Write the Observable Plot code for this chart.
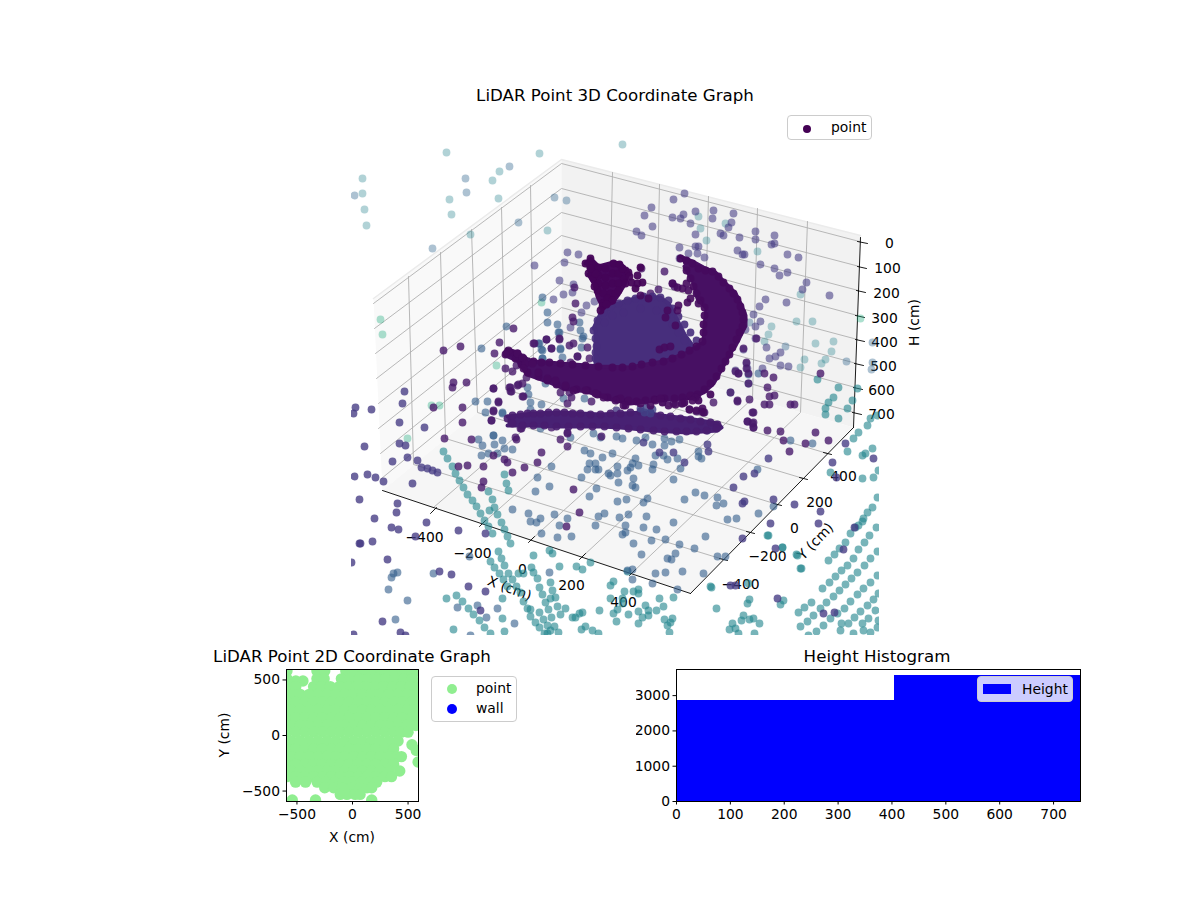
<!DOCTYPE html>
<html><head><meta charset="utf-8">
<script src="https://cdn.jsdelivr.net/npm/d3@7"></script>
<script src="https://cdn.jsdelivr.net/npm/@observablehq/plot@0.6"></script>
<style>
html,body{margin:0;padding:0;background:#fff;overflow:hidden}
#page{position:relative;width:1200px;height:900px;font-family:"DejaVu Sans",sans-serif;color:#000;overflow:hidden}
#page>svg,#page>div{position:absolute}
.t{position:absolute;white-space:nowrap;transform:translate(-50%,-50%);line-height:1}
.title{font-size:16.67px}.lab{font-size:13.89px}
.legend{border:1px solid #ccc;border-radius:4px;box-sizing:border-box;background:rgba(255,255,255,.8);font-size:13.89px}
.legend i{position:absolute;display:block}
.legend span{position:absolute;line-height:1}
</style></head><body><div id="page"></div>
<script>
// ---------- 3D view: values, as projected (screen) coordinates ----------
const paneLeft=[373,298,561,159,561,343,382,490];
const paneBack=[561,159,860,235,853,427,561,343];
const paneFloor=[382,490,561,343,853,427,690,593];
const heightGrid=[[373,303,561,163,859,241],[374,328,561,188,859,266],[375,353,561,212,858,290],[376,378,561,235,857,315],[378,403,561,260,857,339],[378,428,561,283,856,363],[380,453,561,307,855,387],[381,478,561,331,854,412]];
const yGrid=[[408,276,413,464,723,559],[440,252,445,438,750,532],[471,229,477,412,777,504],[501,207,505,389,803,478],[530,185,533,366,827,453]];
const xGrid=[[612,172,608,356,433,507],[659,184,655,370,482,523],[708,196,703,384,531,539],[757,208,752,398,582,556],[807,221,800,412,632,572]];
const axisLines=[[382,490,690,593],[690,593,853,427],[860,237,853,427]];
const tickMarks=[[430,513,436,507],[479,526,485,520],[528,542,534,536],[579,559,585,553],[629,575,635,569],[719,558,727,560],[746,531,754,533],[773,503,781,505],[799,477,807,479],[823,452,831,454],
[857,241,867,243],[857,266,866,268],[856,290,865,292],[855,315,864,317],[855,339,864,341],[854,363,863,365],[853,387,862,389],[852,412,861,414]];
const xTickLabels=[["−400",424,537],["−200",472,553],["0",522,569],["200",571,585],["400",623,602]];
const yTickLabels=[["−400",740,584],["−200",767,556],["0",794,528],["200",819,502],["400",843,476]];
const hTickLabels=[["0",889,243],["100",887,268],["200",886,293],["300",884,318],["400",884,342],["500",883,366],["600",881,390],["700",881,414]];

const paleTeal=[362,178,362,193,364,209,366,225,446,152,449,199,451,214,492,180,499,171,498,198,539,153,622,144,470,234,547,230,700,228,706,240,698,216,725,223,757,251,800,294,796,321,812,321,771,326,768,334,764,341,815,343,833,341,831,351,825,359,821,363,804,359,800,367];
const paleBlue=[354,195,465,178,466,192,509,166,554,197,518,222,432,248,566,200,872,342,872,362,871,369,846,361,749,322,785,346];
const paleGreen=[380,319,382,334,541,302,496,365,860,318,439,405,431,405,407,438];
const violetHigh=[684,193,673,199,651,207,644,215,672,217,680,218,683,214,695,211,713,210,733,213,712,218,690,223,731,222,728,227,652,226,636,231,641,235,695,234,720,233,723,235,739,237,755,231,755,239,774,235,771,244,774,243,679,247,695,246,698,246,737,250,742,254,744,254,787,254,798,257,688,253,697,253,704,257,679,258,760,264,774,268,787,272,779,275,806,282,802,289,829,295,786,302,765,299,759,306,753,314,760,321,755,326,745,329,755,338,766,347,743,349,780,352,775,356,769,358,746,363,780,365,788,366,762,368,735,370,747,368,567,252,578,254,564,262,534,265,559,280,573,284,563,294,572,292,553,299,594,301,586,305,581,312,570,327];
const steel=[547,312,542,297,579,322,557,324,547,322,559,332,580,330,583,336,560,349,541,349,538,343,562,357,542,358,506,326,481,348,539,343,542,350,542,358,560,348,558,332,582,338,581,347,545,383,527,387,528,394,530,402,541,404,530,409,502,413,493,435,563,398,584,398,540,428,570,437,593,433,600,437,475,401,487,401,485,412,502,412,478,439,482,445,493,435,494,444,502,440,512,449,504,448,481,455,488,453,497,453,
584,450,590,453,595,463,587,469,595,469,598,469,608,473,617,473,612,453,602,457,618,482,633,478,673,479,632,485,635,487,610,475,617,466,627,470,630,467,638,465,652,469,653,464,663,455,667,459,677,458,680,468,655,455,635,458,632,463,622,438,616,436,636,440,645,437,652,444,664,445,664,438,671,441,679,439,698,451,698,456,701,458,757,469,717,497,695,492,704,495,684,499,647,498,643,502,617,501,626,499,716,505,723,503,773,506,727,519,736,518,758,513,705,536,679,544,694,548,665,539,651,540,673,522,646,516,643,527,656,529,619,517,628,514,625,525,622,534,625,532,633,543,641,554,675,553,667,558,671,559,717,556,725,556,655,573,665,572,682,571,703,573,632,569,627,570,632,579,652,583,677,589,
512,509,528,513,530,521,536,522,540,518,554,514,567,518,559,525,541,533,557,537,571,536,595,525,598,516,604,513,589,496,596,488,549,486,535,491,537,477,551,466,581,477,589,463,433,573,457,607,477,605,486,617,497,608,514,623,470,635,407,600,388,589,395,619,391,577,393,573,397,572,549,572,469,556,748,374,748,383,758,373,730,392,790,440,812,443];
const indigo=[742,538,773,499,744,501,742,503,733,487,735,585,730,585,743,476,754,473,768,458,684,462,673,452,659,452,708,451,707,444,643,442,707,430,616,410,845,443,832,462,836,477,873,458,794,504,820,511,818,523,770,523,775,548,854,527,843,549,823,613,834,612,777,598,387,559,439,571,451,574,468,586,485,591,480,610,382,621,400,632,353,634,405,635,351,562,360,543,372,541,404,391,402,403,399,422,424,427,405,445,399,443,392,461,407,457,417,460,364,446,355,407,371,409,353,413,354,476,367,474,375,477,383,481,412,483,359,499,397,503,396,512,374,518,391,527,398,529,426,522,359,543,415,536,458,530,485,533,421,467,427,468,432,470,437,472];
const violetLow=[433,407,453,382,452,387,466,382,493,388,462,407,462,422,444,438,471,439,458,466,467,465,483,466,493,455,504,459,512,472,524,467,537,462,483,481,481,487,493,411,491,420,498,402,509,387,510,391,518,384,523,396,521,428,516,439,541,452,507,462,567,446,560,439,567,433,601,436,573,489,579,512,566,526,713,402,737,401,749,399,764,404,769,404,753,412,790,404,794,404,747,421,753,422,753,427,767,430,780,431,783,440,805,443,789,451,815,432,828,440,767,387,774,395,769,396,730,392,748,383,738,373,748,373,764,373,773,377,820,373,689,409,696,411,701,411,704,412,681,403,673,403,574,287,575,303,572,317,573,321,513,328,499,342,443,350,460,346,494,353,534,343,546,339,559,339,551,348,569,345,589,358,577,356,664,271,672,283,674,286,658,289,650,293,641,268,666,310,505,368,512,371,516,365,493,388,510,387,511,391,517,385,522,383,522,396,526,377,498,401,493,410,491,420,520,428,515,437,533,343,546,339,551,348,559,338,577,356,573,343,570,362,587,347,560,392,569,392,571,397,591,401,567,403,587,385,551,427,567,432,743,348,746,362,746,368,735,371,738,373,756,338,737,400,752,412,747,421,752,423,753,427];
const tealLow=[443,451,447,458,452,466,455,473,459,480,463,487,467,494,472,500,476,506,480,513,484,520,488,526,492,533,504,474,506,483,508,490,488,491,492,499,494,507,489,510,497,514,501,522,504,529,507,536,510,543,498,551,501,558,504,565,508,573,512,579,516,586,520,592,523,601,527,608,530,616,535,622,539,627,544,633,490,561,494,567,499,573,503,579,507,586,518,573,523,573,531,567,533,572,537,578,539,587,542,594,545,602,548,609,551,617,554,626,558,632,550,582,552,590,555,597,557,606,560,614,565,608,530,609,539,612,543,619,547,625,550,598,533,555,549,550,552,553,559,566,576,566,582,569,590,562,456,595,462,601,468,608,473,614,479,620,484,627,490,633,446,598,502,598,502,618,504,631,453,629,572,617,575,617,579,613,582,612,599,610,581,629,585,626,592,630,598,633,547,633,550,630,613,613,616,621,617,609,610,598,610,585,613,581,624,591,622,598,627,571,
710,586,748,583,747,603,749,599,716,608,783,600,780,604,743,615,741,620,749,619,753,618,759,623,732,623,729,629,735,628,738,633,754,633,797,555,800,568,782,547,768,535,659,598,663,606,673,597,645,605,648,610,656,610,638,611,628,614,642,617,648,615,638,623,664,619,670,622,672,618,667,625,669,632,633,591,638,589,638,593,622,603,
828,560,834,554,839,548,845,542,850,533,855,527,862,521,858,525,863,518,867,512,872,507,877,497,822,588,829,582,835,576,841,570,847,565,853,558,858,549,864,542,869,535,876,527,798,612,804,607,811,602,820,608,826,602,833,596,839,590,845,584,851,578,857,572,864,565,870,558,877,551,800,626,807,621,813,615,830,618,837,613,844,608,850,601,857,594,863,588,870,582,877,575,808,635,816,631,823,625,841,623,848,623,854,617,860,611,867,605,873,599,878,593,840,630,862,623,868,618,875,610,878,620,853,633,863,630,870,632,877,627,
838,387,833,397,828,402,825,408,825,414,838,418,847,408,852,400,857,388,817,379,858,432,867,425,853,438,870,418,877,415,847,451,862,455,865,453,872,448,873,477,862,478,830,472,878,470,782,547,767,535,796,554,801,568,711,587];

// Dense shapes of the point cloud: outlines, with dots on their edges
const domeOutline=[593,328,600,313,610,306,627,300,643,296,660,297,668,303,676,318,684,334,692,345,700,372,593,372];
const crescentOutline=[680,256,692,261,703,267,715,272,725,283,735,293,741,305,745,315,745,325,740,335,735,345,730,352,722,367,713,383,703,392,692,397,672,399,653,400,630,403,607,398,587,391,563,388,547,381,527,374,517,360,505,355,506,349,517,352,523,357,533,361,547,362,573,364,600,366,630,367,640,365,663,361,687,352,703,342,704,325,706,308,697,298,693,282,684,266];
const maskOutline=[585,263,590,258,598,266,613,262,620,263,628,272,624,284,618,294,612,302,602,307,597,296,594,284,588,274];
const bandOutline=[507,416,533,413,560,412,580,413,600,414,620,413,647,412,660,415,687,418,717,423,721,427,717,430,687,432,653,430,620,427,600,426,580,426,560,426,533,425,507,425];
const domeEdgeDots=[593,330,595,338,596,346,597,320,603,312,610,306,618,303,627,300,635,298,643,296,652,296,660,297,668,300,604,322,612,315,623,312,640,308,656,310,672,308,678,316,684,324,690,332,696,340,666,316,672,324,678,332,684,340,690,348,595,352,595,358];
const crescentEdgeDots=[680,258,686,260,692,263,698,268,705,270,712,271,718,276,723,282,729,288,733,293,737,299,740,306,742,312,743,319,742,326,739,332,736,339,732,347,729,354,725,361,721,368,716,376,710,383,704,389,697,394,690,396,682,397,674,398,664,398,654,399,645,400,636,401,627,401,617,399,607,397,597,394,587,390,576,389,565,387,556,384,547,380,538,376,527,372,521,364,515,358,506,353,510,352,517,353,523,358,533,361,541,362,549,362,560,363,572,364,585,365,598,366,612,367,622,367,632,366,641,364,652,362,663,361,672,358,681,354,689,350,696,346,702,341,686,270,690,278,693,286,696,293,700,300,704,307,704,315,703,324,703,332,
710,394,698,400,684,402,662,402];
const crescentStrayDots=[672,283,677,287,682,288,686,283,688,290,690,298,698,303,687,302,678,305,677,310,667,310,665,317,675,325,659,349,664,347,670,346,640,295,648,298,690,395,695,397,692,400,682,403,675,404,668,405,689,409,696,410,702,408,703,412,655,400,660,398,650,405,640,403,628,400,620,398,625,405,508,350,505,354,517,353,522,357,525,363,523,368,532,363,538,372,547,378,555,380,565,385,573,390,585,390,595,393,603,397,615,400,623,405];
const maskEdgeDots=[585,263,590,258,592,265,588,273,593,278,598,267,605,268,613,263,619,264,625,270,628,272,623,278,598,275,605,277,612,273,618,273,598,283,605,285,612,283,618,283,597,290,603,293,610,293,615,293,603,302,607,298,602,306,612,300,595,273,637,275,640,267,631,282,642,282,635,288,637,283,629,276,590,268,594,286,600,310,606,304,618,290,625,283,622,268];
const bandEdgeDots=[507,418,512,423,512,415,520,414,527,413,533,413,540,413,548,412,556,412,564,412,572,413,580,413,590,414,600,414,610,413,620,413,630,412,640,411,650,412,660,415,670,416,680,418,690,419,700,421,710,422,717,424,716,428,706,430,696,431,686,431,676,431,664,431,653,430,640,429,628,428,616,427,604,426,592,426,580,426,568,426,556,426,544,425,533,425,522,425];
const bandLump=[640,408,646,407,652,409,644,412,650,413];

// ---------- 2D scatter (cm) ----------
const scatterRows=[
[580,[-590,-320,-250,-60,20,100,180,260,340,420,500,580]],
[510,[-590,-320,-255,-100,-20,60,140,220,300,380,460,540]],
[490,[-446,-510]],
[440,[-590,-510,-350,-280,-200,-120,-40,40,120,200,280,360,440,520,590]],
[370,[-550,-470,-390,-310,-230,-150,-70,10,90,170,250,330,410,490,570]],
[300,[-590,-510,-430,-350,-270,-190,-110,-30,50,130,210,290,370,450,530,590]],
[230,[-550,-470,-390,-310,-230,-150,-70,10,90,170,250,330,410,490,570]],
[160,[-590,-510,-430,-350,-270,-190,-110,-30,50,130,210,290,370,450,530,590]],
[90,[-550,-470,-390,-310,-230,-150,-70,10,90,170,250,330,410,490,570]],
[30,[-590,-510,-430,-350,-270,-190,-110,-30,50,130,210,290,370,440,500]],
[-50,[-550,-470,-390,-310,-230,-150,-70,10,90,170,250,330,410]],
[-83,[535]],
[-120,[-590,-510,-430,-350,-270,-190,-110,-30,50,130,210,290,370]],
[-134,[574]],
[-190,[-550,-470,-390,-310,-230,-150,-70,10,90,170,250,330,400,440]],
[-238,[590]],
[-260,[-590,-510,-430,-350,-270,-190,-110,-30,50,130,210,290,370]],
[-320,[-550,-470,-390,-310,-230,-150,-70,10,90,170,250,330,425]],
[-370,[-590,-510,-430,-350,-270,-190,-110,-30,50,130,210,292,351]],
[-420,[-512,-423,-318,-240,-160,-80,0,80,160,217]],
[-470,[-250,-170,-90,-10,70,130,173]],
[-530,[-110,-50,24,68]],
[-580,[-333,-542,173]]];
// ---------- Height histogram ----------
const histEdges=[0,405,750];
const histCounts=[2860,3570];

// ---------- helpers that shape the arrays for the library ----------
const pairs=(a,t)=>{const o=[];for(let i=0;i<a.length;i+=2)o.push({x:a[i],y:a[i+1],t});return o;};
const polylines=rows=>rows.flatMap((r,id)=>pairs(r).map(p=>({...p,id})));
const page=document.getElementById("page");
const place=(el,left,top)=>{el.style.left=left+"px";el.style.top=top+"px";page.appendChild(el);};
const text=(s,x,y,cls,rot)=>{const d=document.createElement("div");d.className="t "+cls;d.textContent=s;d.style.left=x+"px";d.style.top=y+"px";if(rot)d.style.transform=`translate(-50%,-50%) rotate(${rot}deg)`;page.appendChild(d);};
const sans={fontFamily:"DejaVu Sans, sans-serif",fontSize:"13.89px",background:"transparent"};
const pane=(a,fill)=>Plot.line(pairs(a),{x:"x",y:"y",fill,stroke:"none"});
const label=(rows,extra={})=>Plot.text(rows,{x:d=>d[1],y:d=>d[2],text:d=>d[0],fontSize:13.89,fill:"black",...extra});

// frame of the 3D view
place(Plot.plot({width:1200,height:640,margin:0,style:sans,
  x:{domain:[0,1200],range:[0,1200],axis:null},y:{domain:[0,640],range:[0,640],axis:null},
  marks:[
    pane(paneLeft,"#f9f9f9"),pane(paneBack,"#f2f2f2"),pane(paneFloor,"#f6f6f6"),
    Plot.line(pairs([373,298,561,159,860,235]),{x:"x",y:"y",stroke:"#ebebeb",strokeWidth:1.5}),
    ...[heightGrid,yGrid,xGrid].map(g=>Plot.line(polylines(g),{x:"x",y:"y",z:"id",stroke:"#b0b0b0",strokeWidth:.9})),
    Plot.line(polylines(axisLines),{x:"x",y:"y",z:"id",stroke:"black",strokeWidth:.9}),
    Plot.line(polylines(tickMarks),{x:"x",y:"y",z:"id",stroke:"black",strokeWidth:.9}),
    label(xTickLabels),label(yTickLabels),label(hTickLabels),
    label([["X (cm)",509,588]],{rotate:21}),label([["Y (cm)",815,541]],{rotate:-46}),label([["H (cm)",914,322]],{rotate:-90})
  ]}),0,0);

// point cloud, clipped by its own SVG box
const dots=(a,t,o)=>Plot.dot(pairs(a,t),{x:"x",y:"y",r:3.9,fill:"t",stroke:"none",fillOpacity:o});
const solid=(a,t,o)=>Plot.line(pairs(a),{x:"x",y:"y",fill:d3.interpolateViridis(t),stroke:d3.interpolateViridis(t),strokeWidth:4,strokeLinejoin:"round",fillOpacity:o,strokeOpacity:o});
place(Plot.plot({width:528,height:522,margin:0,style:{background:"transparent"},
  x:{domain:[351,879],axis:null},y:{domain:[113,635],range:[0,522],axis:null},
  color:{type:"linear",scheme:"viridis",domain:[0,1]},
  marks:[
    dots(paleTeal,.44,.36),dots(paleBlue,.33,.4),dots(paleGreen,.62,.38),
    dots(tealLow,.46,.62),dots(steel,.3,.62),dots(violetHigh,.17,.58),dots(indigo,.17,.78),dots(violetLow,.07,.8),
    solid(domeOutline,.13,1),dots(domeEdgeDots,.13,.9),
    solid(bandOutline,.09,1),dots(bandEdgeDots,.08,.9),dots(bandLump,.2,.8),
    solid(crescentOutline,.04,1),dots(crescentEdgeDots,.03,.95),dots(crescentStrayDots,.03,.9),
    solid(maskOutline,.02,1),dots(maskEdgeDots,.01,.95)
  ]}),351,113);

// 2D scatter
const minus=d=>String(d).replace("-","−");
place(Plot.plot({width:187,height:172,marginLeft:45,marginRight:10,marginTop:10,marginBottom:30,style:sans,
  x:{domain:[-594,594]},y:{domain:[-594,594]},
  marks:[
    Plot.dot(scatterRows.flatMap(([y,xs])=>xs.map(x=>({x,y}))),{x:"x",y:"y",r:5.7,fill:"#90ee90",clip:true}),
    Plot.axisX({ticks:[-500,0,500],tickFormat:minus,tickSize:3.5,tickPadding:4,label:null,stroke:"black"}),
    Plot.axisY({ticks:[-500,0,500],tickFormat:minus,tickSize:3.5,tickPadding:3,label:null,stroke:"black"}),
    Plot.frame({stroke:"black"})
  ]}),241,659);

// histogram
const histRows=histCounts.map((c,i)=>({x1:histEdges[i],x2:histEdges[i+1],c}));
place(Plot.plot({width:454,height:172,marginLeft:40,marginRight:10,marginTop:10,marginBottom:30,style:sans,
  x:{domain:[0,750]},y:{domain:[0,3740]},
  marks:[
    Plot.rectY(histRows,{x1:"x1",x2:"x2",y:"c",fill:"#0000ff",shapeRendering:"crispEdges"}),
    Plot.axisX({ticks:[0,100,200,300,400,500,600,700],tickFormat:d=>String(d),tickSize:3.5,tickPadding:4,label:null}),
    Plot.axisY({ticks:[0,1000,2000,3000],tickFormat:d=>String(d),tickSize:3.5,tickPadding:3,label:null}),
    Plot.frame({stroke:"black"})
  ]}),636,659);

// titles and axis labels
text("LiDAR Point 3D Coordinate Graph",615,96,"title");
text("LiDAR Point 2D Coordinate Graph",352,657,"title");
text("Height Histogram",877,657,"title");
text("X (cm)",352,838,"lab");
text("Y (cm)",225,735,"lab",-90);

// legends
const legend=(l,t,w,h,entries)=>{const b=document.createElement("div");b.className="legend";b.style.width=w+"px";b.style.height=h+"px";
  for(const e of entries){const m=document.createElement("i");Object.assign(m.style,e.mark);b.appendChild(m);
    const s=document.createElement("span");s.textContent=e.label;s.style.left=e.tx+"px";s.style.top=e.ty+"px";b.appendChild(s);}
  place(b,l,t);};
const round=(c,x,y,d)=>({background:c,borderRadius:"50%",width:d+"px",height:d+"px",left:x+"px",top:y+"px"});
legend(787,115,85,25,[{label:"point",tx:43,ty:5,mark:round("#440154",14.5,8.5,8)}]);
legend(431,676,86,46,[{label:"point",tx:44,ty:5,mark:round("#90ee90",14.5,7,10)},{label:"wall",tx:44,ty:25,mark:round("#0000ff",14.5,27,10)}]);
legend(977,676,96,26,[{label:"Height",tx:44,ty:6,mark:{background:"#0000ff",width:"28px",height:"10px",left:"5px",top:"7px"}}]);
</script></body></html>
